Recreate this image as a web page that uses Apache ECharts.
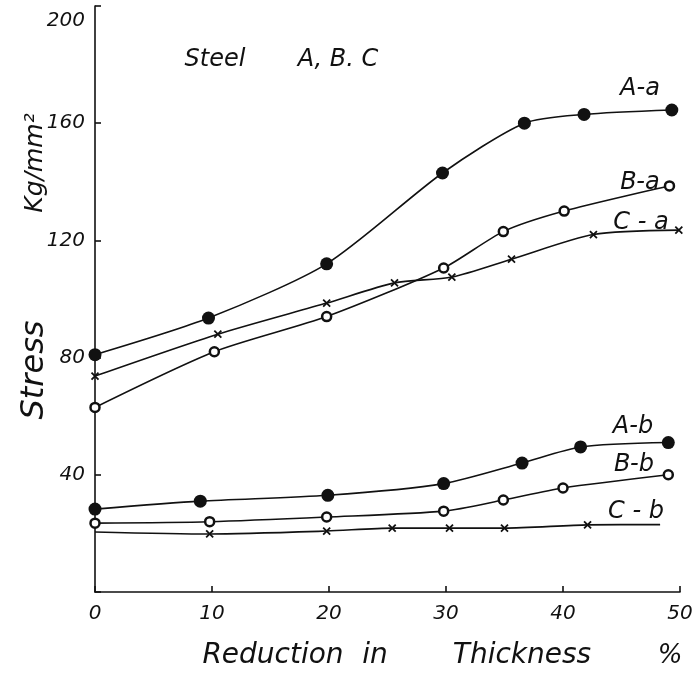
<!DOCTYPE html>
<html>
<head>
<meta charset="utf-8">
<script src="https://cdn.jsdelivr.net/npm/echarts@6/dist/echarts.min.js"></script>
<style>
  html, body { margin: 0; padding: 0; background: #fff; }
  #chart { width: 696px; height: 677px; }
</style>
</head>
<body>
<div id="chart"></div>
<script>
// reduction in thickness (%) / stress (kg/mm2)
var xAa = [0, 9.7, 19.8, 29.7, 36.7, 41.8, 49.3];
var yAa = [81, 93.5, 112, 143, 160, 163, 164.5];
var xBa = [0, 10.2, 19.8, 29.8, 34.9, 40.1, 49.1];
var yBa = [63, 82, 94, 110.6, 123, 130, 138.6];
var xCa = [0, 10.5, 19.8, 25.6, 30.5, 35.6, 42.6, 49.9];
var yCa = [73.7, 88, 98.6, 105.5, 107.5, 113.6, 122, 123.5];
var xAb = [0, 9, 19.9, 29.8, 36.5, 41.5, 49];
var yAb = [28.3, 31, 33, 37, 44, 49.5, 51];
var xBb = [0, 9.8, 19.8, 29.8, 34.9, 40, 49];
var yBb = [23.5, 24, 25.6, 27.6, 31.4, 35.5, 40];
var xCb = [0, 9.8, 19.8, 25.4, 30.3, 35, 42.1, 48.3];
var yCb = [20.5, 19.8, 20.8, 21.8, 21.8, 21.8, 22.9, 23];
var cbNoMark = [0, 7]; // line ends drawn without a marker

var xTicks = [0, 10, 20, 30, 40, 50];
var yTicks = [40, 80, 120, 160, 200];

var ink = '#111';
var font = 'DejaVu Sans';
var cross = 'path://M0,0L10,10M10,0L0,10';

function pairs(xs, ys, skip) {
  return xs.map(function(x, i) {
    var p = { value: [x, ys[i]] };
    if (skip && skip.indexOf(i) >= 0) p.symbol = 'none';
    return p;
  });
}

function line(name, xs, ys, kind, skip) {
  var s = {
    name: name,
    type: 'line',
    smooth: 0.25,
    data: pairs(xs, ys, skip),
    lineStyle: { color: ink, width: 1.6 },
    z: 3
  };
  if (kind === 'filled') {
    s.symbol = 'circle'; s.symbolSize = 13;
    s.itemStyle = { color: ink };
  } else if (kind === 'open') {
    s.symbol = 'circle'; s.symbolSize = 9;
    s.itemStyle = { color: '#fff', borderColor: ink, borderWidth: 2.5 };
  } else {
    s.symbol = cross; s.symbolSize = 7;
    s.itemStyle = { color: 'none', borderColor: ink, borderWidth: 1.8 };
  }
  return s;
}

function txt(x, y, text, size, rot) {
  return {
    type: 'text', x: x, y: y, rotation: rot || 0,
    style: {
      text: text, fill: ink, font: 'italic ' + size + 'px ' + font,
      textAlign: 'center', textVerticalAlign: 'middle'
    }
  };
}

var chart = echarts.init(document.getElementById('chart'), null, { renderer: 'canvas' });
chart.setOption({
  animation: false,
  backgroundColor: '#fff',
  grid: { left: 95, right: 16, top: 6, bottom: 85 },
  xAxis: {
    type: 'value', min: 0, max: 50, interval: 10,
    axisLine: { lineStyle: { color: ink, width: 1.6 } },
    axisTick: { inside: true, length: 6, lineStyle: { color: ink, width: 1.6 } },
    splitLine: { show: false },
    axisLabel: {
      color: ink, fontSize: 20, fontStyle: 'italic', fontFamily: font, margin: 12,
      formatter: function(v) { return xTicks.indexOf(v) >= 0 ? String(v) : ''; }
    }
  },
  yAxis: {
    type: 'value', min: 0, max: 200, interval: 40,
    axisLine: { show: true, lineStyle: { color: ink, width: 1.6 } },
    axisTick: { show: true, inside: true, length: 6, lineStyle: { color: ink, width: 1.6 } },
    splitLine: { show: false },
    axisLabel: {
      color: ink, fontSize: 20, fontStyle: 'italic', fontFamily: font, margin: 10,
      formatter: function(v) {
        if (v === 200) return '{top|200}';
        return yTicks.indexOf(v) >= 0 ? String(v) : '';
      },
      rich: { top: { fontSize: 20, fontStyle: 'italic', fontFamily: font, color: ink, padding: [30, 0, 0, 0] } }
    }
  },
  series: [
    line('A-a', xAa, yAa, 'filled'),
    line('B-a', xBa, yBa, 'open'),
    line('C-a', xCa, yCa, 'cross'),
    line('A-b', xAb, yAb, 'filled'),
    line('B-b', xBb, yBb, 'open'),
    line('C-b', xCb, yCb, 'cross', cbNoMark)
  ],
  graphic: [
    txt(215, 60, 'Steel', 24),
    txt(338, 60, 'A, B. C', 24),
    txt(640, 89, 'A-a', 24),
    txt(640, 183, 'B-a', 24),
    txt(641, 223, 'C - a', 24),
    txt(633, 427, 'A-b', 24),
    txt(634, 465, 'B-b', 24),
    txt(636, 512, 'C - b', 24),
    txt(35, 370, 'Stress', 32, Math.PI / 2),
    txt(35, 163, 'Kg/mm²', 25, Math.PI / 2),
    txt(273, 656, 'Reduction', 28),
    txt(375, 656, 'in', 28),
    txt(522, 656, 'Thickness', 28),
    txt(670, 656, '%', 26)
  ]
});
</script>
</body>
</html>
